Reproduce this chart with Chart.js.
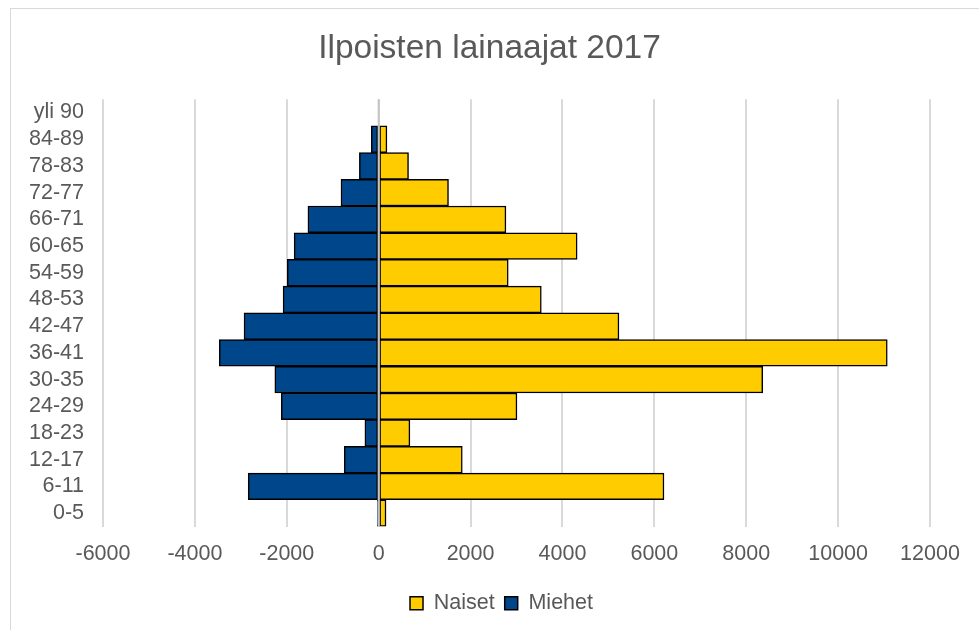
<!DOCTYPE html>
<html>
<head>
<meta charset="utf-8">
<title>Ilpoisten lainaajat 2017</title>
<script src="https://cdn.jsdelivr.net/npm/chart.js@4.4.1/dist/chart.umd.min.js"></script>
<style>
    html, body { margin: 0; padding: 0; background: #fff; }
    #wrap { position: relative; width: 979px; height: 630px; }
    #frame {
        position: absolute; left: 10px; top: 8px; right: -2px; bottom: -2px;
        border-left: 1.5px solid #d9d9d9; border-top: 1.5px solid #d9d9d9;
        pointer-events: none;
    }
</style>
</head>
<body>
<div id="wrap">
    <canvas id="chartLainaajat" width="979" height="630"></canvas>
    <div id="frame"></div>
</div>
<script>
// ikäryhmät alhaalta ylös
const ageGroups = ['0-5', '6-11', '12-17', '18-23', '24-29', '30-35', '36-41', '42-47',
    '48-53', '54-59', '60-65', '66-71', '72-77', '78-83', '84-89', 'yli 90'];
const naiset = [160, 6210, 1820, 680, 3010, 8360, 11070, 5230, 3540, 2820, 4320, 2770, 1520, 650, 180, 0];
const miehet = [-30, -2840, -750, -300, -2120, -2260, -3470, -2930, -2080, -1990, -1840, -1540, -820, -420, -160, 0];
const xTicks = [-6000, -4000, -2000, 0, 2000, 4000, 6000, 8000, 10000, 12000];

Chart.defaults.font.family = "'Liberation Sans', Arial, sans-serif";
Chart.defaults.color = '#595959';

// nollalinja piirretään palkkien päälle
const zeroLine = {
    id: 'zeroLine',
    afterDatasetsDraw(chart) {
        const x = chart.scales.x.getPixelForValue(0);
        const area = chart.chartArea;
        const ctx = chart.ctx;
        ctx.save();
        ctx.strokeStyle = '#c4c4c4';
        ctx.lineWidth = 2;
        ctx.beginPath();
        ctx.moveTo(x, area.top);
        ctx.lineTo(x, area.bottom);
        ctx.stroke();
        ctx.restore();
    }
};

// selite hieman oikealle kuten alkuperäisessä
const legendShift = {
    id: 'legendShift',
    afterLayout(chart) {
        if (chart.legend) {
            chart.legend.left += 12;
            chart.legend.right += 12;
        }
    }
};

const ctx = document.getElementById('chartLainaajat').getContext('2d');
new Chart(ctx, {
    type: 'bar',
    data: {
        labels: ageGroups,
        datasets: [{
            label: 'Naiset',
            data: naiset,
            backgroundColor: '#ffcc00',
            borderColor: '#000000',
            borderWidth: 1.5,
            borderSkipped: false
        }, {
            label: 'Miehet',
            data: miehet,
            backgroundColor: '#00468b',
            borderColor: '#000000',
            borderWidth: 1.5,
            borderSkipped: false
        }]
    },
    options: {
        responsive: false,
        animation: false,
        indexAxis: 'y',
        categoryPercentage: 1,
        barPercentage: 1,
        layout: { padding: { left: 0, right: 0, top: 0, bottom: 6 } },
        scales: {
            x: {
                stacked: true,
                min: -6000,
                max: 12000,
                afterBuildTicks: function(scale) {
                    scale.ticks = xTicks.map(v => ({ value: v }));
                },
                afterFit: function(scale) { scale.height = 56; },
                border: { display: false },
                grid: {
                    color: '#d9d9d9',
                    lineWidth: 2,
                    drawTicks: false
                },
                ticks: {
                    padding: 15,
                    font: { size: 21.5 },
                    callback: function(value) { return String(value); }
                }
            },
            y: {
                stacked: true,
                reverse: true,
                afterFit: function(scale) { scale.width = 103; },
                border: { display: false },
                grid: { display: false, drawTicks: false },
                ticks: {
                    padding: 19,
                    autoSkip: false,
                    font: { size: 21.5 }
                }
            },
            yRight: {
                type: 'category',
                position: 'right',
                afterFit: function(scale) { scale.width = 49; },
                border: { display: false },
                grid: { display: false, drawTicks: false },
                ticks: { display: false }
            }
        },
        plugins: {
            title: {
                display: true,
                text: 'Ilpoisten lainaajat 2017',
                font: { size: 33.5, weight: 'normal' },
                color: '#595959',
                padding: { top: 29, bottom: 30 }
            },
            legend: {
                position: 'bottom',
                labels: {
                    boxWidth: 13,
                    boxHeight: 13,
                    padding: 10,
                    font: { size: 21.5 },
                    color: '#595959'
                }
            },
            tooltip: { enabled: false }
        }
    },
    plugins: [zeroLine, legendShift]
});
</script>
</body>
</html>
